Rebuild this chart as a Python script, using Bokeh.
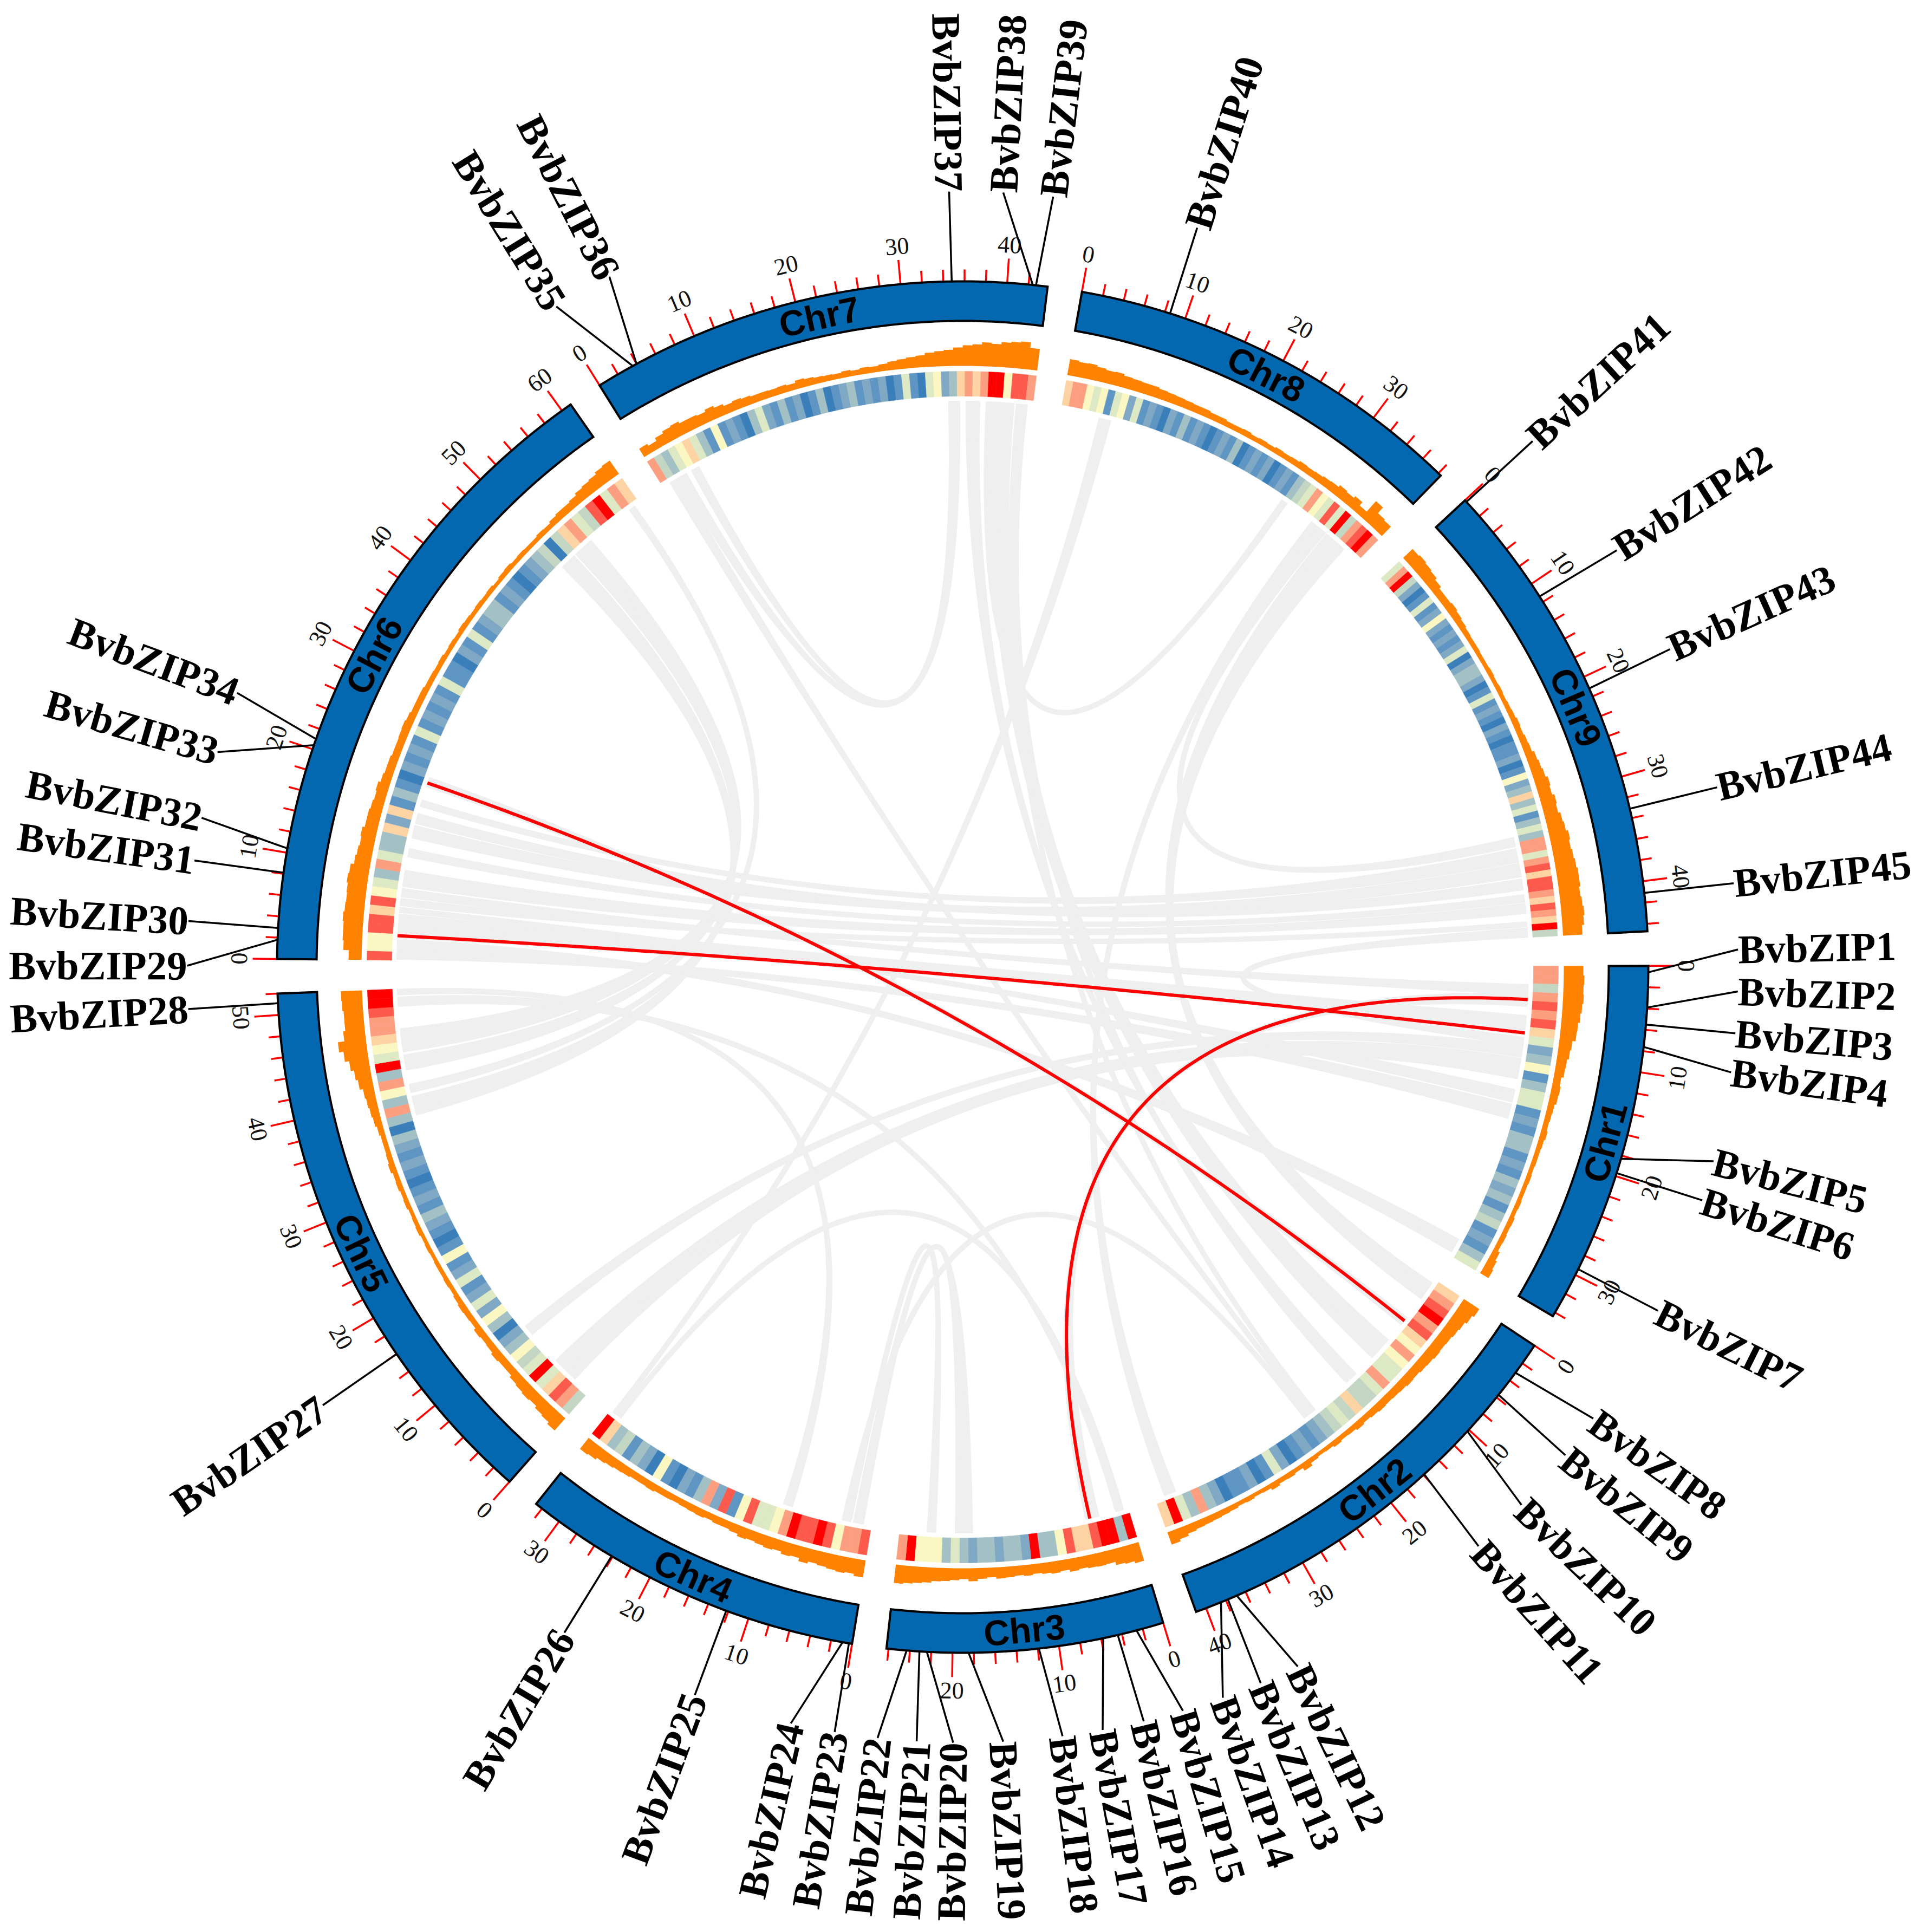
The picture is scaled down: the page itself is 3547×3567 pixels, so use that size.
import numpy as np
from bokeh.plotting import figure
from bokeh.models import ColumnDataSource, Range1d
from bokeh.core.properties import value
from bokeh.embed import file_html
from bokeh.resources import INLINE

chrom_names = ["Chr1","Chr2","Chr3","Chr4","Chr5","Chr6","Chr7","Chr8","Chr9"]
chrom_len = [34.4,41.0,26.2,32.7,52.0,61.0,43.8,38.3,44.7]

heat_levels = ["#3a7fba","#5f95c2","#7fa8c4","#a3c0c4","#c3d6c4","#dde8c4","#fbf7c2","#fdd3a4","#fc9e80","#fb5a4c","#ff0000"]
heat = {
 1:[8,8,4,8,9,8,9,7,5,2,3,6,1,3,5,5,1,2,1,3,3,1,2,1,3,2,3,1,3,4,1,2,1,3,5],
 2:[7,8,9,10,8,9,7,6,8,6,5,5,8,5,4,4,7,4,5,4,3,2,1,2,1,0,2,5,1,0,2,1,1,0,2,3,8,3,5,10,7],
 3:[10,3,10,10,9,7,7,9,6,3,3,10,2,3,3,2,3,3,2,3,5,3,6,6,6,10,8],
 4:[9,8,8,6,9,10,9,9,10,8,6,5,5,9,6,1,9,2,8,3,1,2,0,1,6,0,2,3,1,4,3,7,10],
 5:[4,8,9,7,5,10,5,4,6,3,2,0,3,6,2,5,2,1,5,2,1,6,1,0,1,2,3,1,2,1,0,1,2,1,2,3,0,3,8,3,6,8,3,10,5,6,7,8,8,9,10,10],
 6:[9,6,6,9,9,7,9,6,5,3,8,5,3,3,7,2,7,1,3,1,0,2,1,2,1,5,1,2,1,2,1,5,1,1,0,2,1,5,1,2,3,3,1,2,1,0,1,2,3,4,0,4,7,8,5,4,9,10,5,8,7],
 7:[8,4,3,5,6,7,5,3,1,6,1,2,1,0,3,5,2,1,3,1,2,0,1,3,0,1,2,3,1,2,1,2,0,1,5,1,0,5,6,2,3,7,8,7,8,10,10,6,9,9,8],
 8:[7,8,8,6,5,6,1,5,6,2,5,1,2,1,0,2,1,3,1,2,1,0,1,2,1,3,0,1,2,1,2,0,1,2,1,3,4,5,8,6,5,9,5,10,4,8,9,10,8],
 9:[5,8,10,4,2,0,1,5,1,2,6,2,1,2,1,2,5,0,2,3,3,2,0,1,5,1,2,1,0,2,1,0,1,1,2,0,1,6,2,3,7,3,5,1,3,5,3,8,8,5,8,9,7,9,9,8,7,9,8,7,10,4],
}
density = {
 1:[36,38,37,38,36,34,31,30,24,22,19,18,14,16,15,12,11,10,12,10,9,9,8,9,8,8,9,8,10,9,10,9,13,16,18],
 2:[34,30,26,24,22,21,22,20,19,17,18,16,15,14,15,13,11,13,10,9,11,8,7,9,14,8,10,9,12,8,7,9,8,10,11,12,13,14,16,20,24],
 3:[36,32,30,24,25,24,22,24,20,22,20,18,20,18,20,21,18,20,24,20,22,24,25,28,30,32,34],
 4:[32,28,30,28,26,24,28,22,24,20,22,20,18,20,16,14,14,12,14,13,12,11,12,12,14,13,13,15,16,18,20,24,26],
 5:[30,26,24,20,22,20,18,14,14,16,13,12,14,10,11,12,10,8,9,8,8,7,8,7,9,8,7,9,8,10,9,12,10,9,9,11,14,16,18,20,26,30,36,44,52,40,36,36,38,39],
 6:[24,34,36,36,38,36,35,36,38,36,30,28,26,28,24,24,22,20,22,18,16,16,14,14,15,16,14,12,12,12,10,10,9,10,8,9,8,10,9,8,9,8,9,7,9,10,8,9,8,8,10,9,12,14,14,16,20,22,24,28,30],
 7:[18,14,20,24,26,22,22,20,24,20,16,18,16,14,14,13,14,12,16,14,12,11,10,12,10,12,11,13,16,18,20,22,26,28,30,34,38,40,44,42,46,48,50,40],
 8:[30,28,29,26,24,25,22,21,20,20,18,17,16,15,14,14,12,12,10,10,11,9,10,9,11,10,11,13,12,13,15,16,20,18,22,14,40,26,24],
 9:[24,26,24,22,18,14,14,16,14,12,10,9,9,8,8,9,8,9,8,9,10,12,11,13,14,18,20,22,26,24,28,26,30,32,36,34,36,38,40,40,38,40,42,40,36],
}

gene_chr = [1]*7+[2]*7+[3]*8+[4]*4+[5]*2+[6]*6+[7]*5+[8]*1+[9]*5
gene_pos = [0.6,3.9,5.5,7.6,18.3,19.7,29.4,
            3.1,5.7,10.2,15.9,36.9,37.8,38.5,
            2.6,4.4,5.8,11.9,18.5,22.4,23.1,24.3,
            0.3,0.9,12.2,24.1,
            16.0,51.1,
            1.8,2.9,8.1,10.4,20.4,21.0,
            3.6,4.0,34.8,42.4,42.7,
            8.5,
            0.2,11.4,21.2,33.1,41.1]
label_deg = [-1.3,1.8,4.9,7.8,14.5,17.5,26.3,
             35.6,39.0,43.9,48.3,64.4,67.4,70.4,
             73.5,76.5,79.6,82.6,87.0,90.7,93.4,96.3,
             99.5,102.8,110.2,120.9,
             145.6,176.9,
             180.1,183.4,187.9,191.1,196.1,200.7,
             238.4,242.9,269.0,273.0,276.7,
             287.6,
             317.3,327.5,335.8,346.6,353.8]

links = [
 (6,0.1,1.2,1,15.8,17.5),(6,1.2,2.4,1,32.3,34.0),(6,2.5,3.25,1,7.06,7.84),(6,3.25,5.27,1,5.6,7.06),
 (6,5.4,6.05,1,14.1,15.6),(6,6.2,7.06,9,42.9,43.5),(6,7.2,8.2,1,2.07,3.25),(6,8.4,10.3,9,40.8,42.0),
 (6,11.8,12.8,9,39.8,40.7),(6,14.0,15.5,9,36.2,37.8),(6,15.7,16.9,9,38.0,39.3),(6,17.7,18.5,9,34.5,36.1),
 (6,20.05,21.2,2,5.3,6.4),(6,51.7,52.9,5,42.7,44.5),(6,52.9,54.1,5,44.8,47.5),(6,49.6,51.5,5,37.5,39.7),
 (6,59.6,60.4,5,40.1,41.1),(5,2.1,5.2,1,10.5,12.9),(5,9.1,10.4,1,9.08,10.4),(5,50.0,51.1,3,1.0,1.46),
 (5,51.3,52.0,4,9.2,10.3),(4,0.9,2.1,3,17.9,19.9),(4,2.35,2.8,3,22.1,23.1),(4,2.8,3.4,2,21.2,21.7),
 (4,31.2,31.8,3,0.56,1.0),(4,31.8,32.4,8,4.4,5.8),(3,3.4,5.0,1,3.25,4.6),(7,0.9,2.0,2,20.7,21.2),
 (7,2.0,3.1,7,35.0,35.5),(7,3.7,4.7,7,34.2,35.0),(7,36.2,37.8,2,13.9,14.9),(7,39.0,41.7,2,8.6,11.4),
 (7,41.9,42.6,2,20.1,20.7),(7,42.6,43.2,2,15.0,15.4),(8,27.2,28.0,7,38.5,39.0),(8,31.4,32.4,2,38.5,39.9),
 (8,32.4,33.5,9,33.2,34.3),(8,33.6,36.3,2,0.45,2.7),(9,43.6,44.7,1,8.07,9.08),
]
red_links = [(1,3.8,3,4.5),(1,7.6,6,2.8),(6,20.5,2,5.8)]

# layout
W, H = 3531, 3551
CX, CY = 1785.0, 1793.0
R_OUT, R_IN = 1266.0, 1193.0
R_DENS = 1110.0
R_H1, R_H0 = 1100.0, 1054.0
R_LINK = 1045.0
R_LABEL = 1432.0
GAP = 2.9
START = -0.1
SCALE = (360 - GAP*len(chrom_len)) / sum(chrom_len)
starts = {}
a = START
for i, l in enumerate(chrom_len):
    starts[i+1] = a
    a += l*SCALE + GAP

def th(c, mb):
    return starts[c] + mb*SCALE

def pol(deg, r):
    t = np.radians(deg)
    return CX + r*np.cos(t), CY + r*np.sin(t)

def arc(d0, d1, r):
    n = max(2, int(abs(d1-d0)/0.4)+2)
    d = np.linspace(d0, d1, n)
    return pol(d, r)

def sector(d0, d1, r0, r1):
    x1, y1 = arc(d0, d1, r1)
    x0, y0 = arc(d1, d0, r0)
    return list(x1)+list(x0), list(y1)+list(y0)

def bez(d0, d1, r=R_LINK, n=60):
    x0, y0 = pol(d0, r)
    x1, y1 = pol(d1, r)
    t = np.linspace(0, 1, n)
    return (1-t)**2*x0 + 2*t*(1-t)*CX + t**2*x1, (1-t)**2*y0 + 2*t*(1-t)*CY + t**2*y1

def text_cw(deg):
    d = deg % 360
    return d-90 if d < 180 else d+90

p = figure(width=W, height=H, x_range=Range1d(8, 8+W), y_range=Range1d(8+H, 8),
           x_axis_type=None, y_axis_type=None, toolbar_location=None,
           output_backend="svg", min_border=0, outline_line_color=None)
p.grid.visible = False
p.background_fill_color = "white"
p.border_fill_color = "white"

# links: a ribbon, plus a centre stroke that keeps narrow ribbons visible where their edges pinch
lx, ly, mx, my = [], [], [], []
for (ca, a1, a2, cb, b1, b2) in links:
    t1, t2, t3, t4 = th(ca, a1), th(ca, a2), th(cb, b1), th(cb, b2)
    xa, ya = arc(t1, t2, R_LINK)
    xb, yb = bez(t2, t3)
    xc, yc = arc(t3, t4, R_LINK)
    xd, yd = bez(t4, t1)
    lx.append(list(xa)+list(xb)+list(xc)+list(xd))
    ly.append(list(ya)+list(yb)+list(yc)+list(yd))
    xm, ym = bez((t1+t2)/2, (t3+t4)/2, r=R_LINK-4)
    mx.append(list(xm)); my.append(list(ym))
p.patches(lx, ly, fill_color="#EFEFEF", line_color="#EFEFEF", line_width=1)
p.multi_line(mx, my, line_color="#EFEFEF", line_width=10)

# red links
rx, ry = [], []
for (ca, a1, cb, b1) in red_links:
    xb, yb = bez(th(ca, a1), th(cb, b1), n=120)
    rx.append(list(xb)); ry.append(list(yb))
p.multi_line(rx, ry, line_color="#FF0000", line_width=6)

# heat track
hx, hy, hc = [], [], []
for c, vals in heat.items():
    L = chrom_len[c-1]
    w = L/len(vals)
    for i, v in enumerate(vals):
        xx, yy = sector(th(c, i*w), th(c, (i+1)*w), R_H0, R_H1)
        hx.append(xx); hy.append(yy); hc.append(heat_levels[v])
p.patches(hx, hy, fill_color=hc, line_color=hc, line_width=0.6)

# density track
dx, dy = [], []
for c, vals in density.items():
    L = chrom_len[c-1]
    w = L/len(vals)
    xs, ys = [], []
    for i, v in enumerate(vals):
        x_, y_ = arc(th(c, i*w), th(c, (i+1)*w), R_DENS+v)
        xs += list(x_); ys += list(y_)
    x_, y_ = arc(th(c, L), th(c, 0), R_DENS)
    dx.append(xs+list(x_)); dy.append(ys+list(y_))
p.patches(dx, dy, fill_color="#FF8200", line_color=None)

# ticks
tx0, ty0, tx1, ty1 = [], [], [], []
nx, ny, nt, na = [], [], [], []
for i, L in enumerate(chrom_len):
    c = i+1
    for m in np.arange(0, L+0.001, 2):
        major = int(m) % 10 == 0
        d = th(c, m)
        x0, y0 = pol(d, R_OUT)
        x1, y1 = pol(d, R_OUT + (45 if major else 22))
        tx0.append(x0); ty0.append(y0); tx1.append(x1); ty1.append(y1)
        if major:
            x2, y2 = pol(d, 1336)
            nx.append(x2); ny.append(y2); nt.append(str(int(m)))
            na.append(-np.radians(text_cw(d)))
p.segment(tx0, ty0, tx1, ty1, line_color="#FF0000", line_width=3.5)
p.text(nx, ny, text=nt, angle=na, text_align="center", text_baseline="middle",
       text_font=value("Liberation Serif"), text_font_size=value("44px"), text_color="#111111")

# chromosome ring
cx_, cy_ = [], []
for i, L in enumerate(chrom_len):
    xx, yy = sector(th(i+1, 0), th(i+1, L), R_IN, R_OUT)
    cx_.append(xx); cy_.append(yy)
p.patches(cx_, cy_, fill_color="#0468B1", line_color="black", line_width=4, line_join="miter")

lab_x, lab_y, lab_a = [], [], []
for i, L in enumerate(chrom_len):
    d = th(i+1, L/2)
    x_, y_ = pol(d, (R_IN+R_OUT)/2)
    lab_x.append(x_); lab_y.append(y_); lab_a.append(-np.radians(text_cw(d)))
p.text(lab_x, lab_y, text=chrom_names, angle=lab_a, text_align="center", text_baseline="middle",
       text_font=value("Liberation Sans"), text_font_style="bold", text_font_size=value("66px"), text_color="black")

# gene leaders and labels
gx0, gy0, gx1, gy1 = [], [], [], []
R_x, R_y, R_t, R_a = [], [], [], []
L_x, L_y, L_t, L_a = [], [], [], []
for k, (c, m, ld) in enumerate(zip(gene_chr, gene_pos, label_deg)):
    x0, y0 = pol(th(c, m), R_OUT)
    x1, y1 = pol(ld, R_LABEL)
    gx0.append(x0); gy0.append(y0); gx1.append(x1); gy1.append(y1)
    name = f"BvbZIP{k+1}"
    if np.cos(np.radians(ld)) >= 0:
        R_x.append(x1); R_y.append(y1); R_t.append(name); R_a.append(-np.radians(ld))
    else:
        L_x.append(x1); L_y.append(y1); L_t.append(name); L_a.append(-np.radians(ld-180))
p.segment(gx0, gy0, gx1, gy1, line_color="black", line_width=3.5)
common = dict(text_baseline="middle", text_font=value("Liberation Serif"), text_font_style="bold",
              text_font_size=value("75px"), text_color="black")
p.text(R_x, R_y, text=R_t, angle=R_a, text_align="left", **common)
p.text(L_x, L_y, text=L_t, angle=L_a, text_align="right", **common)

open("out.html", "w").write(file_html(p, INLINE))
